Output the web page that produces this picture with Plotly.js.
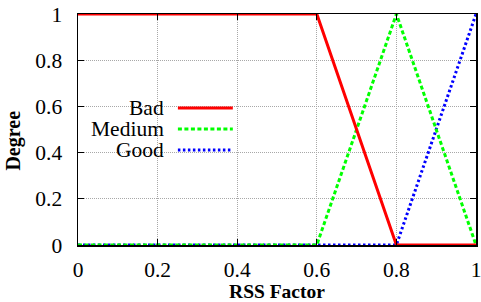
<!DOCTYPE html>
<html><head><meta charset="utf-8">
<script src="https://cdn.plot.ly/plotly-3.0.1.min.js"></script>
<style>html,body{margin:0;padding:0;background:#fff}#c{width:481px;height:302px}</style>
</head><body><div id="c"></div>
<script>
const badX = [0, 0.6, 0.8, 1];
const badY = [1, 1, 0, 0];
const mediumX = [0, 0.6, 0.8, 1];
const mediumY = [0, 0, 1, 0];
const goodX = [0, 0.8, 1];
const goodY = [0, 0, 1];
const seriesNames = ['Bad', 'Medium', 'Good'];
const tickVals = [0, 0.2, 0.4, 0.6, 0.8, 1];
const tickText = ['0', '0.2', '0.4', '0.6', '0.8', '1'];
const xTitle = 'RSS Factor';
const yTitle = 'Degree';

const colors = ['#ff0000', '#00ff00', '#0000ff'];
const dashes = ['solid', '4px,2.5px', '2.5px,2.5px'];

const traces = [
  {x: goodX, y: goodY, name: seriesNames[2], mode: 'lines', cliponaxis: false,
   line: {color: colors[2], width: 3, dash: dashes[2]}},
  {x: mediumX, y: mediumY, name: seriesNames[1], mode: 'lines', cliponaxis: false,
   line: {color: colors[1], width: 3, dash: dashes[1]}},
  {x: badX, y: badY, name: seriesNames[0], mode: 'lines', cliponaxis: false,
   line: {color: colors[0], width: 3, dash: dashes[0]}}
];

const font = {family: 'Liberation Serif, Times New Roman, DejaVu Serif, serif', color: '#000'};
const axisCommon = {
  range: [0, 1], tickvals: tickVals, ticktext: tickText,
  showline: true, linecolor: '#000', linewidth: 1.5, mirror: 'ticks',
  ticks: 'inside', ticklen: 6, tickwidth: 1, tickcolor: '#000',
  showgrid: true, gridcolor: '#a8a8a8', gridwidth: 1, griddash: '1px,1px',
  zeroline: false, tickfont: Object.assign({size: 21.5}, font), fixedrange: true,
  ticklabeloverflow: 'allow'
};

const legendY = [0.593, 0.502, 0.411];
const annotations = [];
const shapes = [];
seriesNames.forEach((n, i) => {
  annotations.push({text: n, xref: 'paper', yref: 'paper', x: 0.219, y: legendY[i],
    xanchor: 'right', yanchor: 'middle', showarrow: false, borderpad: 0,
    font: Object.assign({size: 21.5}, font)});
  shapes.push({type: 'line', xref: 'paper', yref: 'paper', x0: 0.251, x1: 0.389,
    y0: legendY[i], y1: legendY[i], line: {color: colors[i], width: 3, dash: dashes[i]}});
});
annotations.push({text: '<b>' + yTitle + '</b>', xref: 'paper', yref: 'paper',
  x: -0.162, y: 0.45, xanchor: 'center', yanchor: 'middle', textangle: -90,
  showarrow: false, font: Object.assign({size: 20}, font)});

const layout = {
  width: 481, height: 302,
  margin: {l: 78, r: 5, t: 14, b: 57},
  paper_bgcolor: '#fff', plot_bgcolor: '#fff',
  font: font,
  showlegend: false,
  xaxis: Object.assign({}, axisCommon, {ticklabelstandoff: 5,
    title: {text: '<b>' + xTitle + '</b>', font: Object.assign({size: 19.5}, font), standoff: 3}}),
  yaxis: Object.assign({}, axisCommon, {ticklabelstandoff: 10}),
  annotations: annotations, shapes: shapes
};
Plotly.newPlot('c', traces, layout, {staticPlot: true});
</script></body></html>
